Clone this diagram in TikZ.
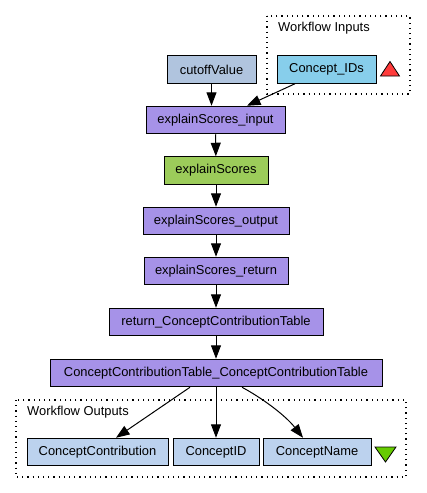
\documentclass[tikz,border=0pt]{standalone}
\usepackage{fontspec}
\setmainfont{Liberation Sans}
\usetikzlibrary{arrows.meta}
\definecolor{procpurple}{HTML}{A692E8}
\definecolor{beangreen}{HTML}{9CCC5A}
\definecolor{inblue}{HTML}{87CEEB}
\definecolor{constblue}{HTML}{B0C4DE}
\definecolor{outblue}{HTML}{BCD2EE}
\definecolor{trired}{HTML}{FF3B3B}
\definecolor{trigreen}{HTML}{66CC00}
\tikzset{
  px/.style={x=1pt,y=-1pt},
  box/.style={draw=black, line width=1pt, minimum height=27.5pt, inner sep=0pt, font=\fontsize{12.9}{14}\selectfont, anchor=center},
  proc/.style={box, fill=procpurple},
  edge/.style={line width=1pt, -{Triangle[length=13.5pt,width=10pt]}},
  group/.style={draw=black, line width=1.1pt, dash pattern=on 1.2pt off 4pt},
  grouplabel/.style={font=\fontsize{12.9}{14}\selectfont, anchor=west, inner sep=0pt}
}
\begin{document}
\begin{tikzpicture}[px]
\useasboundingbox (0,0) rectangle (427,493);
\fill[white] (0,0) rectangle (427,493);
% groups
\draw[group] (267,16) rectangle (410,94);
\node[grouplabel] (inlabel) at (278,28.5) {Workflow Inputs};
\draw[group] (16,400) rectangle (406,477);
\node[grouplabel] (outlabel) at (27,412.5) {Workflow Outputs};
% nodes
\node[box, fill=constblue, minimum width=89pt] (cutoff) at (211.5,69.5) {cutoffValue};
\node[box, fill=inblue, minimum width=99pt] (cids) at (326.5,69.5) {Concept\_IDs};
\node[proc, minimum width=139pt] (esi) at (215.5,120) {explainScores\_input};
\node[box, fill=beangreen, minimum width=104pt] (es) at (216,170.5) {explainScores};
\node[proc, minimum width=146pt] (eso) at (216,221) {explainScores\_output};
\node[proc, minimum width=144pt] (esr) at (216,271) {explainScores\_return};
\node[proc, minimum width=214pt] (rcct) at (216,322) {return\_ConceptContributionTable};
\node[proc, minimum width=332pt] (cct) at (216,373) {ConceptContributionTable\_ConceptContributionTable};
\node[box, fill=outblue, minimum width=141pt] (ccontrib) at (97.5,452) {ConceptContribution};
\node[box, fill=outblue, minimum width=86pt] (cid) at (216,452) {ConceptID};
\node[box, fill=outblue, minimum width=108pt] (cname) at (317,452) {ConceptName};
% triangles
\filldraw[fill=trired, draw=black, line width=0.8pt] (390,61.5) -- (399.5,76) -- (380.5,76) -- cycle;
\filldraw[fill=trigreen, draw=black, line width=0.8pt] (375,447) -- (396,447) -- (385.5,462) -- cycle;
% edges
\draw[edge] (cutoff) -- (cutoff.south |- esi.north);
\draw[edge] ([xshift=-31.5pt]cids.south) -- ([xshift=31.5pt]esi.north);
\draw[edge] (esi) -- (es);
\draw[edge] (es) -- (eso);
\draw[edge] (eso) -- (esr);
\draw[edge] (esr) -- (rcct);
\draw[edge] (rcct) -- (cct);
\draw[edge] ([xshift=-26pt]cct.south) -- ([xshift=18.5pt]ccontrib.north);
\draw[edge] (cct) -- (cid);
\draw[edge] ([xshift=26pt]cct.south) .. controls (262,398) and (285,415) .. ([xshift=-14pt]cname.north);
\end{tikzpicture}
\end{document}
